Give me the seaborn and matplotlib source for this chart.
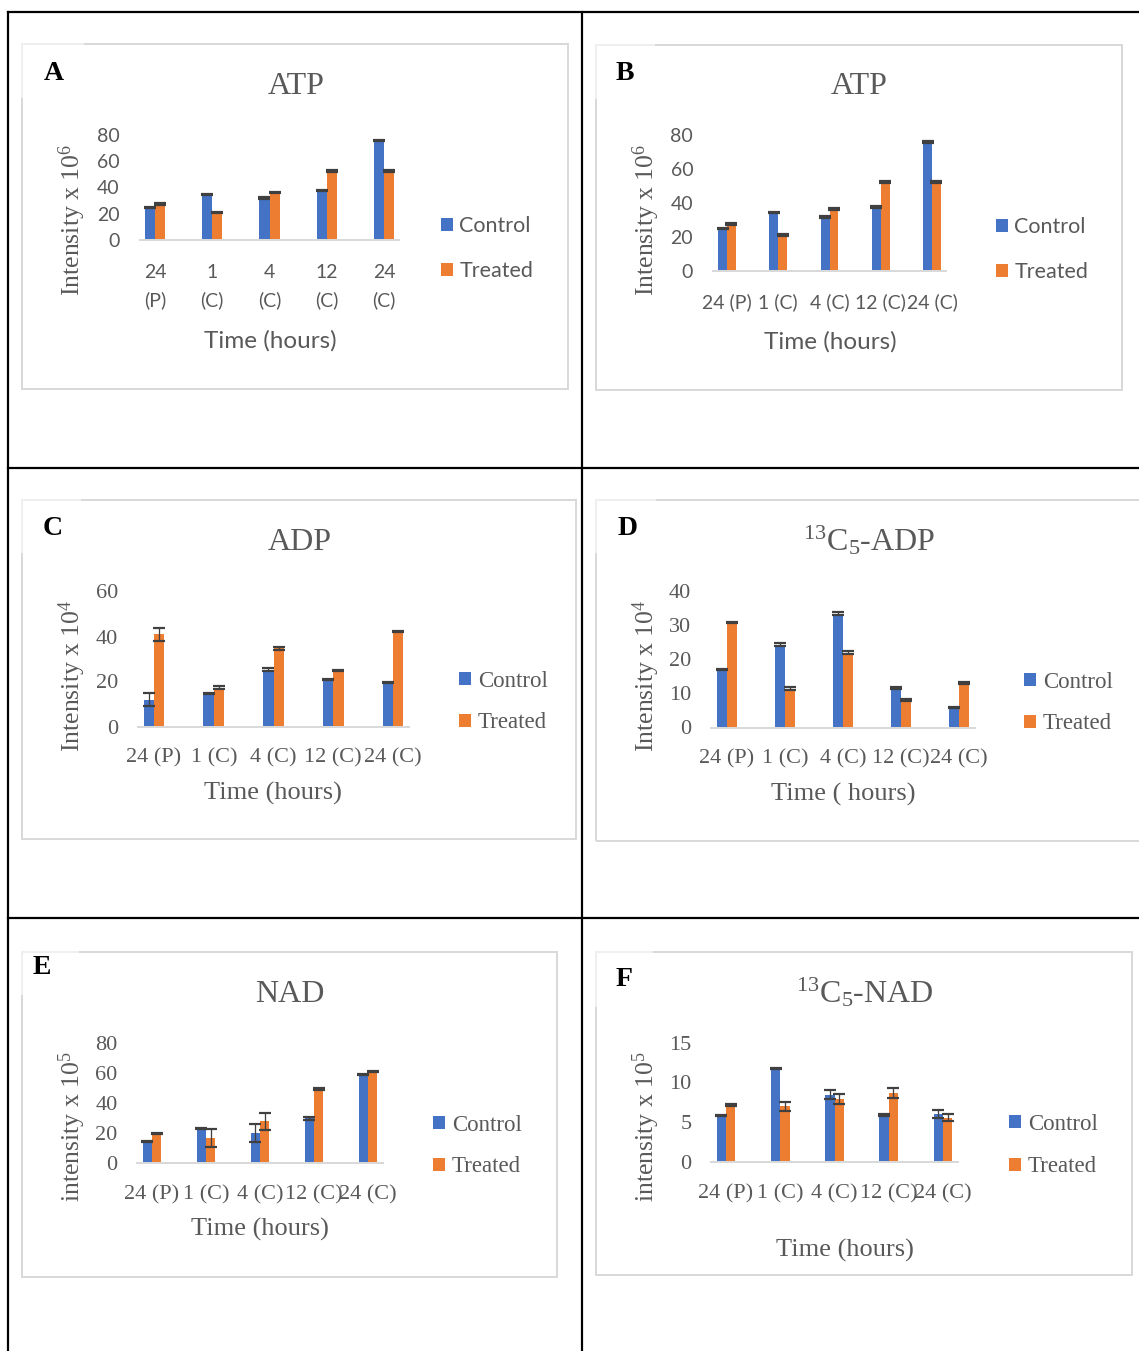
import matplotlib
matplotlib.use("Agg")
import matplotlib.pyplot as plt
from matplotlib.patches import Rectangle, Patch
from matplotlib.lines import Line2D
import numpy as np
import pandas as pd
import seaborn as sns

# ---------------------------------------------------------------- data
times = ["24 (P)", "1 (C)", "4 (C)", "12 (C)", "24 (C)"]
times_wrapped = ["24\n(P)", "1\n(C)", "4\n(C)", "12\n(C)", "24\n(C)"]
groups = ["Control", "Treated"]

atp_control = [25.0, 34.5, 32.0, 37.5, 76.0]
atp_treated = [27.5, 21.0, 36.3, 52.5, 52.5]
atp_control_err = [0.5, 0.5, 0.6, 0.5, 0.5]
atp_treated_err = [0.5, 0.5, 0.6, 0.5, 0.5]

adp_control = [12.0, 14.6, 25.3, 21.0, 19.5]
adp_treated = [40.9, 17.3, 34.7, 24.7, 42.4]
adp_control_err = [2.7, 0.3, 0.5, 0.25, 0.25]
adp_treated_err = [2.75, 0.5, 0.5, 0.25, 0.25]

c13_adp_control = [17.1, 24.3, 33.3, 11.6, 5.9]
c13_adp_treated = [30.8, 11.4, 21.9, 8.1, 13.0]
c13_adp_control_err = [0.15, 0.4, 0.45, 0.2, 0.2]
c13_adp_treated_err = [0.15, 0.55, 0.45, 0.2, 0.2]

nad_control = [14.4, 23.1, 20.2, 29.8, 59.1]
nad_treated = [19.6, 16.7, 27.8, 49.3, 61.1]
nad_control_err = [0.4, 0.4, 6.0, 1.2, 0.6]
nad_treated_err = [0.4, 6.0, 5.8, 0.5, 0.6]

c13_nad_control = [5.9, 11.7, 8.45, 5.9, 6.0]
c13_nad_treated = [7.2, 7.0, 7.9, 8.7, 5.6]
c13_nad_control_err = [0.08, 0.08, 0.55, 0.15, 0.5]
c13_nad_treated_err = [0.12, 0.6, 0.6, 0.65, 0.4]

# ---------------------------------------------------------------- style
W, H = 1139, 1351
BLUE, ORANGE = "#4472C4", "#ED7D31"
TXT = "#595959"
ERR = "#404040"
FRAME = "#D9D9D9"

sns.set_style("white")
plt.rcParams["mathtext.default"] = "regular"
SERIF = ["Liberation Serif", "DejaVu Serif"]
SANS = ["Lato", "DejaVu Sans"]
plt.rcParams["font.family"] = SERIF

fig = plt.figure(figsize=(W / 100, H / 100), dpi=100)


def fx(x):
    return x / W


def fy(y):
    return 1 - y / H


def px(v):
    """pixels -> points"""
    return v * 0.72


# table grid
for (x0, y0, x1, y1) in [(8, 12, 8, 1351), (582, 12, 582, 1351),
                         (8, 12, 1139, 12), (8, 467.5, 1139, 467.5),
                         (8, 918, 1139, 918)]:
    fig.add_artist(Line2D([fx(x0), fx(x1)], [fy(y0), fy(y1)], color="black",
                          lw=px(2.2), transform=fig.transFigure,
                          solid_capstyle="projecting"))

panels = [
    dict(letter="A", control=atp_control, treated=atp_treated,
         cerr=atp_control_err, terr=atp_treated_err,
         c0=155, sp=57.25, y0=240, ytop=135, ymax=80, step=20,
         font=SANS, ticklabels=times_wrapped, tick_fs=14, tick_pad=17.5,
         title="ATP", title_xy=(296, 87),
         ylabel="Intensity x 10$^{6}$", ylabel_xy=(72, 220),
         xlabel="Time (hours)", xlabel_xy=(270, 341), xlabel_fs=17.5,
         leg_x=441, leg_y=248.5, leg_fs=15.5, leg_gap=45.5,
         letter_xy=(54, 73), box=(22, 44, 568, 389), mask=(20, 40, 84, 98)),
    dict(letter="B", control=atp_control, treated=atp_treated,
         cerr=atp_control_err, terr=atp_treated_err,
         c0=727, sp=51.25, y0=271, ytop=135, ymax=80, step=20,
         font=SANS, ticklabels=times, tick_fs=14, tick_pad=16,
         title="ATP", title_xy=(859, 87),
         ylabel="Intensity x 10$^{6}$", ylabel_xy=(646, 220),
         xlabel="Time (hours)", xlabel_xy=(830, 342), xlabel_fs=17.5,
         leg_x=996, leg_y=249.5, leg_fs=15.5, leg_gap=45.5,
         letter_xy=(625, 73), box=(596, 45, 1122, 390), mask=(594, 40, 655, 99)),
    dict(letter="C", control=adp_control, treated=adp_treated,
         cerr=adp_control_err, terr=adp_treated_err,
         c0=154, sp=59.75, y0=726.5, ytop=591.5, ymax=60, step=20,
         font=SERIF, ticklabels=times, tick_fs=16, tick_pad=15.5,
         title="ADP", title_xy=(300, 543),
         ylabel="Intensity x 10$^{4}$", ylabel_xy=(72, 676),
         xlabel="Time (hours)", xlabel_xy=(273, 793), xlabel_fs=19,
         leg_x=459, leg_y=702, leg_fs=16.5, leg_gap=42,
         letter_xy=(53, 529), box=(22, 500, 576, 839), mask=(20, 495, 81, 553)),
    dict(letter="D", control=c13_adp_control, treated=c13_adp_treated,
         cerr=c13_adp_control_err, terr=c13_adp_treated_err,
         c0=727, sp=58, y0=727.5, ytop=591, ymax=40, step=10,
         font=SERIF, ticklabels=times, tick_fs=16, tick_pad=15.5,
         title="$^{13}$C$_{5}$-ADP", title_xy=(869, 541),
         ylabel="Intensity x 10$^{4}$", ylabel_xy=(646, 676),
         xlabel="Time ( hours)", xlabel_xy=(843, 794), xlabel_fs=19,
         leg_x=1024, leg_y=703, leg_fs=16.5, leg_gap=42,
         letter_xy=(628, 529), box=(596, 500, 1150, 841), mask=(594, 495, 656, 553)),
    dict(letter="E", control=nad_control, treated=nad_treated,
         cerr=nad_control_err, terr=nad_treated_err,
         c0=152, sp=54, y0=1163.3, ytop=1043, ymax=80, step=20,
         font=SERIF, ticklabels=times, tick_fs=16, tick_pad=16,
         title="NAD", title_xy=(290, 994),
         ylabel="intensity x 10$^{5}$", ylabel_xy=(72, 1127),
         xlabel="Time (hours)", xlabel_xy=(260, 1229), xlabel_fs=19,
         leg_x=433, leg_y=1146, leg_fs=16.5, leg_gap=42,
         letter_xy=(42, 967), box=(22, 952, 557, 1277), mask=(20, 945, 79, 995)),
    dict(letter="F", control=c13_nad_control, treated=c13_nad_treated,
         cerr=c13_nad_control_err, terr=c13_nad_treated_err,
         c0=726, sp=54.25, y0=1162.3, ytop=1042.5, ymax=15, step=5,
         font=SERIF, ticklabels=times, tick_fs=16, tick_pad=15.5,
         title="$^{13}$C$_{5}$-NAD", title_xy=(865, 993),
         ylabel="intensity x 10$^{5}$", ylabel_xy=(646, 1127),
         xlabel="Time (hours)", xlabel_xy=(845, 1250), xlabel_fs=19,
         leg_x=1009, leg_y=1145.5, leg_fs=16.5, leg_gap=43,
         letter_xy=(624, 980), box=(596, 952, 1132, 1275), mask=(594, 945, 653, 1007)),
]

M = 0.27  # half-gap before first / after last category, in category units

for p in panels:
    # chart frame and the white tab behind the panel letter
    bx0, by0, bx1, by1 = p["box"]
    fig.add_artist(Rectangle((fx(bx0), fy(by1)), fx(bx1 - bx0), (by1 - by0) / H,
                             transform=fig.transFigure, fill=False,
                             edgecolor=FRAME, lw=px(2), zorder=0))
    mx0, my0, mx1, my1 = p["mask"]
    fig.add_artist(Rectangle((fx(mx0), fy(my1)), fx(mx1 - mx0), (my1 - my0) / H,
                             transform=fig.transFigure, facecolor="white",
                             edgecolor="none", alpha=0.6, zorder=1))

    left = p["c0"] - M * p["sp"]
    width = (4 + 2 * M) * p["sp"]
    height = p["y0"] - p["ytop"]
    ax = fig.add_axes([fx(left), fy(p["y0"]), width / W, height / H])
    ax.set_facecolor("none")

    df = pd.DataFrame({
        "time": times * 2,
        "group": [groups[0]] * 5 + [groups[1]] * 5,
        "value": list(p["control"]) + list(p["treated"]),
    })
    sns.barplot(data=df, x="time", y="value", hue="group", order=times,
                hue_order=groups, palette=[BLUE, ORANGE], saturation=1,
                width=0.35, errorbar=None, legend=False, linewidth=0, ax=ax)

    for cont, err in zip(ax.containers, [p["cerr"], p["terr"]]):
        xs = [b.get_x() + b.get_width() / 2 for b in cont]
        ys = [b.get_height() for b in cont]
        ax.errorbar(xs, ys, yerr=err, fmt="none", ecolor=ERR,
                    elinewidth=px(1.3), capsize=4.6, capthick=px(2.2), zorder=3)

    ax.set_xlim(-M, 4 + M)
    ax.set_ylim(0, p["ymax"])
    ax.set_yticks(np.arange(0, p["ymax"] + 0.1, p["step"]))
    ax.set_xticks(range(5))
    ax.set_xticklabels(p["ticklabels"])
    sns.despine(ax=ax, left=True)
    ax.spines["bottom"].set_color(FRAME)
    ax.spines["bottom"].set_linewidth(px(2))
    ax.tick_params(axis="both", length=0, colors=TXT, labelsize=p["tick_fs"])
    ax.tick_params(axis="x", pad=p["tick_pad"])
    ax.tick_params(axis="y", pad=px(20))
    for t in ax.get_xticklabels() + ax.get_yticklabels():
        t.set_family(p["font"])
        t.set_linespacing(1.67)

    def to_axes(xy):
        return ((xy[0] - left) / width, (p["y0"] - xy[1]) / height)

    ax.set_xlabel(p["xlabel"], fontsize=p["xlabel_fs"], color=TXT,
                  family=p["font"])
    ax.xaxis.set_label_coords(*to_axes(p["xlabel_xy"]))
    ax.xaxis.label.set_va("center")

    ax.set_ylabel(p["ylabel"], fontsize=18.5, color=TXT, family=SERIF)
    ax.yaxis.set_label_coords(*to_axes(p["ylabel_xy"]))
    ax.yaxis.label.set_va("center")
    ax.yaxis.label.set_ha("center")

    tx, ty = to_axes(p["title_xy"])
    ax.set_title(p["title"], x=tx, y=ty, pad=0, va="center", ha="center",
                 fontsize=23, color=TXT, family=SERIF)

    fs = p["leg_fs"]
    fs_px = fs / 0.72
    handles = [Patch(facecolor=BLUE, edgecolor="none"),
               Patch(facecolor=ORANGE, edgecolor="none")]
    ax.legend(handles, groups, loc="center left",
              bbox_to_anchor=(fx(p["leg_x"]), fy(p["leg_y"])),
              bbox_transform=fig.transFigure, frameon=False,
              borderpad=0, borderaxespad=0,
              handlelength=12 / fs_px, handleheight=12 / fs_px,
              handletextpad=0.3, labelspacing=(p["leg_gap"] - 0.93 * fs_px) / fs_px,
              prop={"family": p["font"], "size": fs}, labelcolor=TXT)

    fig.text(fx(p["letter_xy"][0]), fy(p["letter_xy"][1]), p["letter"],
             ha="center", va="center", fontsize=20, fontweight="bold",
             family=SERIF, color="black")

fig.savefig("out.png", dpi=100, facecolor="white")
